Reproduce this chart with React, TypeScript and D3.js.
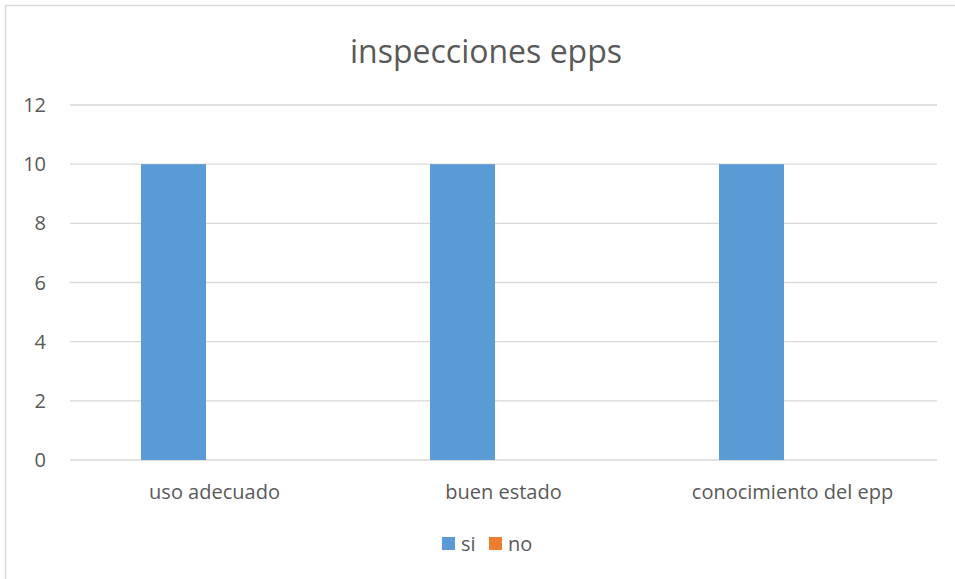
import React, { useEffect, useRef } from "react";
import * as d3 from "d3";

const categories = ["uso adecuado", "buen estado", "conocimiento del epp"];
const seriesNames = ["si", "no"];
const siValues = [10, 10, 10];
const noValues = [0, 0, 0];
const yTicks = [0, 2, 4, 6, 8, 10, 12];
const seriesColors = ["#5B9BD5", "#ED7D31"];

const W = 955;
const H = 579;
const FONT = "'Open Sans', 'Noto Sans', sans-serif";
const TEXT = "#595959";

const App: React.FC = () => {
  const svgRef = useRef<SVGSVGElement>(null);

  useEffect(() => {
    if (!svgRef.current) return;
    const svg = d3.select(svgRef.current);
    svg.selectAll("*").remove();

    const margin = { top: 105, left: 70, right: 18, bottom: 119 };
    const plotW = W - margin.left - margin.right;
    const plotH = H - margin.top - margin.bottom;

    // chart frame
    svg
      .append("rect")
      .attr("x", 5.5)
      .attr("y", 5.5)
      .attr("width", W + 10)
      .attr("height", H + 10)
      .attr("fill", "#fff")
      .attr("stroke", "#D9D9D9")
      .attr("stroke-width", 1.5);

    svg
      .append("text")
      .attr("x", 486)
      .attr("y", 63)
      .attr("text-anchor", "middle")
      .style("font-family", FONT)
      .style("font-size", "32px")
      .style("fill", TEXT)
      .text("inspecciones epps");

    const g = svg
      .append("g")
      .attr("transform", `translate(${margin.left},${margin.top})`);

    const x0 = d3.scaleBand().domain(categories).range([0, plotW]).padding(0);
    const x1 = d3
      .scaleBand()
      .domain(seriesNames)
      .range([71, x0.bandwidth() - 71])
      .paddingInner(0.207)
      .paddingOuter(0);
    const y = d3.scaleLinear().domain([0, 12]).range([plotH, 0]);

    // gridlines
    g.selectAll(".grid")
      .data(yTicks)
      .enter()
      .append("line")
      .attr("x1", 0)
      .attr("x2", plotW)
      .attr("y1", (d) => y(d))
      .attr("y2", (d) => y(d))
      .attr("stroke", "#D9D9D9")
      .attr("stroke-width", 1.3);

    // y tick labels
    g.selectAll(".ytick")
      .data(yTicks)
      .enter()
      .append("text")
      .attr("x", -24)
      .attr("y", (d) => y(d))
      .attr("dy", "0.35em")
      .attr("text-anchor", "end")
      .style("font-family", FONT)
      .style("font-size", "20px")
      .style("fill", TEXT)
      .text((d) => d);

    const rows = categories.map((c, i) => ({
      cat: c,
      values: [siValues[i], noValues[i]],
    }));

    const groups = g
      .selectAll(".cat")
      .data(rows)
      .enter()
      .append("g")
      .attr("transform", (d) => `translate(${x0(d.cat)},0)`);

    groups
      .selectAll("rect")
      .data((d) => d.values.map((v, j) => ({ s: seriesNames[j], v, j })))
      .enter()
      .append("rect")
      .attr("x", (d) => x1(d.s) || 0)
      .attr("y", (d) => y(d.v))
      .attr("width", x1.bandwidth())
      .attr("height", (d) => plotH - y(d.v))
      .attr("fill", (d) => seriesColors[d.j]);

    // category labels
    g.selectAll(".xlab")
      .data(categories)
      .enter()
      .append("text")
      .attr("x", (d) => (x0(d) || 0) + x0.bandwidth() / 2)
      .attr("y", plotH + 39)
      .attr("text-anchor", "middle")
      .style("font-family", FONT)
      .style("font-size", "20px")
      .style("fill", TEXT)
      .text((d) => d);

    // legend
    const legendX = [442, 489];
    const leg = svg
      .selectAll(".leg")
      .data(seriesNames)
      .enter()
      .append("g")
      .attr("transform", (_d, i) => `translate(${legendX[i]},537)`);
    leg
      .append("rect")
      .attr("width", 13)
      .attr("height", 13)
      .attr("fill", (_d, i) => seriesColors[i]);
    leg
      .append("text")
      .attr("x", 19)
      .attr("y", 14)
      .style("font-family", FONT)
      .style("font-size", "20px")
      .style("fill", TEXT)
      .text((d) => d);
  }, []);

  return (
    <svg
      ref={svgRef}
      width={W}
      height={H}
      style={{ position: "absolute", left: 0, top: 0, display: "block" }}
    />
  );
};

export default App;
